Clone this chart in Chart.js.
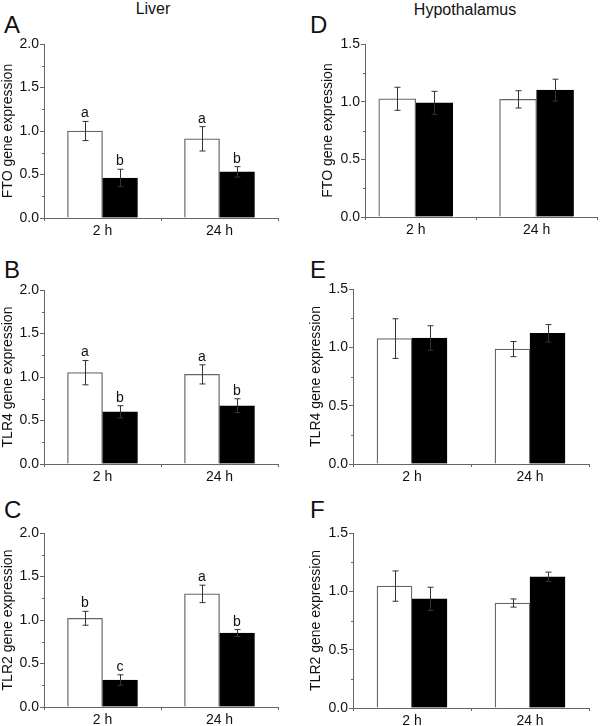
<!DOCTYPE html>
<html>
<head>
<meta charset="utf-8">
<script src="https://cdn.jsdelivr.net/npm/chart.js@4/dist/chart.umd.min.js"></script>
<style>
  body { margin: 0; background: #fff; }
  #wrap { position: relative; width: 600px; height: 726px; font-family: 'Liberation Sans', Arial, sans-serif; color: #111; }
  canvas { position: absolute; }
  .lbl { position: absolute; line-height: 1; white-space: nowrap; }
  .col { font-size: 16px; transform: translateX(-50%); }
  .pl { font-size: 24px; }
</style>
</head>
<body>
<div id="wrap">
  <div class="lbl col" style="left:153px; top:1px;">Liver</div>
  <div class="lbl col" style="left:465px; top:2px;">Hypothalamus</div>
  <div class="lbl pl" style="left:4px; top:13px;">A</div>
  <div class="lbl pl" style="left:4px; top:258px;">B</div>
  <div class="lbl pl" style="left:4px; top:498px;">C</div>
  <div class="lbl pl" style="left:310px; top:13px;">D</div>
  <div class="lbl pl" style="left:310px; top:258px;">E</div>
  <div class="lbl pl" style="left:310px; top:498px;">F</div>
</div>
<script>
const timeLabels = ['2 h', '24 h'];

// Liver (open = white bars, filled = black bars)
const liverFtoOpen = [1.00, 0.91];
const liverFtoOpenErr = [0.11, 0.14];
const liverFtoFilled = [0.46, 0.53];
const liverFtoFilledErr = [0.10, 0.06];
const liverFtoOpenSig = ['a', 'a'];
const liverFtoFilledSig = ['b', 'b'];

const liverTlr4Open = [1.05, 1.03];
const liverTlr4OpenErr = [0.14, 0.11];
const liverTlr4Filled = [0.60, 0.67];
const liverTlr4FilledErr = [0.07, 0.08];
const liverTlr4OpenSig = ['a', 'a'];
const liverTlr4FilledSig = ['b', 'b'];

const liverTlr2Open = [1.02, 1.30];
const liverTlr2OpenErr = [0.08, 0.10];
const liverTlr2Filled = [0.31, 0.85];
const liverTlr2FilledErr = [0.06, 0.04];
const liverTlr2OpenSig = ['b', 'a'];
const liverTlr2FilledSig = ['c', 'b'];

// Hypothalamus
const hypoFtoOpen = [1.025, 1.02];
const hypoFtoOpenErr = [0.10, 0.075];
const hypoFtoFilled = [0.99, 1.10];
const hypoFtoFilledErr = [0.10, 0.095];

const hypoTlr4Open = [1.075, 0.985];
const hypoTlr4OpenErr = [0.17, 0.065];
const hypoTlr4Filled = [1.08, 1.12];
const hypoTlr4FilledErr = [0.105, 0.075];

const hypoTlr2Open = [1.045, 0.90];
const hypoTlr2OpenErr = [0.13, 0.035];
const hypoTlr2Filled = [0.935, 1.125];
const hypoTlr2FilledErr = [0.10, 0.04];

const FONT = "'Liberation Sans', Arial, sans-serif";

const panels = [
  { id: 'A', title: 'FTO gene expression', yMax: 2.0,
    open: liverFtoOpen, openErr: liverFtoOpenErr, filled: liverFtoFilled, filledErr: liverFtoFilledErr,
    openSig: liverFtoOpenSig, filledSig: liverFtoFilledSig,
    box: { cx: 0, cy: 0, cw: 300, ch: 242, left: 44, right: 278, top: 44, bottom: 218, titleX: 8 },
    xMin: 0.5, xMax: 2.5, barW: 35 },
  { id: 'B', title: 'TLR4 gene expression', yMax: 2.0,
    open: liverTlr4Open, openErr: liverTlr4OpenErr, filled: liverTlr4Filled, filledErr: liverTlr4FilledErr,
    openSig: liverTlr4OpenSig, filledSig: liverTlr4FilledSig,
    box: { cx: 0, cy: 242, cw: 300, ch: 242, left: 44, right: 278, top: 290, bottom: 464, titleX: 8 },
    xMin: 0.5, xMax: 2.5, barW: 35 },
  { id: 'C', title: 'TLR2 gene expression', yMax: 2.0,
    open: liverTlr2Open, openErr: liverTlr2OpenErr, filled: liverTlr2Filled, filledErr: liverTlr2FilledErr,
    openSig: liverTlr2OpenSig, filledSig: liverTlr2FilledSig,
    box: { cx: 0, cy: 484, cw: 300, ch: 242, left: 44, right: 278, top: 533, bottom: 707, titleX: 8 },
    xMin: 0.5, xMax: 2.5, barW: 35 },
  { id: 'D', title: 'FTO gene expression', yMax: 1.5,
    open: hypoFtoOpen, openErr: hypoFtoOpenErr, filled: hypoFtoFilled, filledErr: hypoFtoFilledErr,
    box: { cx: 300, cy: 0, cw: 300, ch: 242, left: 365, right: 597, top: 44, bottom: 217, titleX: 328 },
    xMin: 0.58, xMax: 2.5, barW: 37 },
  { id: 'E', title: 'TLR4 gene expression', yMax: 1.5,
    open: hypoTlr4Open, openErr: hypoTlr4OpenErr, filled: hypoTlr4Filled, filledErr: hypoTlr4FilledErr,
    box: { cx: 300, cy: 242, cw: 300, ch: 242, left: 353, right: 589, top: 289, bottom: 464, titleX: 316 },
    xMin: 0.5, xMax: 2.5, barW: 35 },
  { id: 'F', title: 'TLR2 gene expression', yMax: 1.5,
    open: hypoTlr2Open, openErr: hypoTlr2OpenErr, filled: hypoTlr2Filled, filledErr: hypoTlr2FilledErr,
    box: { cx: 300, cy: 484, cw: 300, ch: 242, left: 353, right: 589, top: 533, bottom: 708, titleX: 316 },
    xMin: 0.5, xMax: 2.5, barW: 35 }
];

// error bars, letters and minor ticks
const extrasPlugin = {
  id: 'extras',
  afterDatasetsDraw(chart) {
    const ctx = chart.ctx;
    const p = chart.options.plugins.extras;
    const yScale = chart.scales.y;
    const area = chart.chartArea;
    ctx.save();
    // minor ticks on y axis
    ctx.strokeStyle = '#666';
    ctx.lineWidth = 1;
    for (let v = 0.25; v < p.yMax; v += 0.5) {
      const y = Math.round(yScale.getPixelForValue(v)) + 0.5;
      ctx.beginPath();
      ctx.moveTo(area.left - 2, y);
      ctx.lineTo(area.left, y);
      ctx.stroke();
    }
    const errs = [p.openErr, p.filledErr];
    const sigs = [p.openSig, p.filledSig];
    chart.data.datasets.forEach((ds, di) => {
      const meta = chart.getDatasetMeta(di);
      meta.data.forEach((bar, i) => {
        const v = ds.data[i].y;
        const e = errs[di][i];
        const x = Math.round(bar.x) + 0.5;
        const yt = yScale.getPixelForValue(v + e);
        const yb = yScale.getPixelForValue(v - e);
        ctx.strokeStyle = '#333';
        ctx.beginPath();
        ctx.moveTo(x, yt); ctx.lineTo(x, yb);
        ctx.moveTo(x - 3, yt); ctx.lineTo(x + 3, yt);
        ctx.moveTo(x - 3, yb); ctx.lineTo(x + 3, yb);
        ctx.stroke();
        if (sigs[di]) {
          ctx.fillStyle = '#111';
          ctx.font = '14px ' + FONT;
          ctx.textAlign = 'center';
          ctx.textBaseline = 'alphabetic';
          ctx.fillText(sigs[di][i], bar.x, yt - 4);
        }
      });
    });
    ctx.restore();
  }
};

const wrap = document.getElementById('wrap');

panels.forEach(p => {
  const b = p.box;
  const canvas = document.createElement('canvas');
  canvas.width = b.cw;
  canvas.height = b.ch;
  canvas.style.left = b.cx + 'px';
  canvas.style.top = b.cy + 'px';
  wrap.appendChild(canvas);

  const padLeft = Math.max(0, b.titleX - 8.4 - b.cx);
  const yWidth = b.left - b.cx - padLeft;
  const xHeight = b.cy + b.ch - b.bottom;
  const xTicks = [p.xMin, 1, 1.5, 2, p.xMax];

  new Chart(canvas, {
    type: 'bar',
    data: {
      datasets: [
        {
          data: p.open.map((y, i) => ({ x: i + 1, y })),
          backgroundColor: '#fff',
          borderColor: '#666',
          borderWidth: 1.3,
          barThickness: p.barW
        },
        {
          data: p.filled.map((y, i) => ({ x: i + 1, y })),
          backgroundColor: '#000',
          borderColor: '#000',
          borderWidth: 1,
          barThickness: p.barW
        }
      ]
    },
    options: {
      responsive: false,
      animation: false,
      layout: { padding: { left: padLeft, right: b.cx + b.cw - b.right, top: b.top - b.cy, bottom: 0 } },
      plugins: {
        legend: { display: false },
        tooltip: { enabled: false },
        extras: { yMax: p.yMax, openErr: p.openErr, filledErr: p.filledErr, openSig: p.openSig, filledSig: p.filledSig }
      },
      scales: {
        x: {
          type: 'linear',
          min: p.xMin,
          max: p.xMax,
          offset: false,
          afterBuildTicks: s => { s.ticks = xTicks.map(v => ({ value: v })); },
          afterFit: s => { s.height = xHeight; },
          grid: {
            offset: false,
            drawOnChartArea: false,
            tickLength: 3,
            tickColor: c => (c.tick && Number.isInteger(c.tick.value)) ? 'rgba(0,0,0,0)' : '#666'
          },
          border: { color: '#666', width: 1 },
          ticks: {
            autoSkip: false,
            maxRotation: 0,
            padding: 2,
            color: '#111',
            font: { family: FONT, size: 14 },
            callback: v => Number.isInteger(v) ? timeLabels[v - 1] : ''
          }
        },
        y: {
          min: 0,
          max: p.yMax,
          afterFit: s => { s.width = yWidth; },
          grid: { drawOnChartArea: false, tickLength: 4, tickColor: '#666' },
          border: { color: '#666', width: 1 },
          ticks: {
            stepSize: 0.5,
            padding: 1,
            color: '#111',
            font: { family: FONT, size: 14 },
            callback: v => v.toFixed(1)
          },
          title: {
            display: true,
            text: p.title,
            color: '#111',
            padding: { top: 0, bottom: 0 },
            font: { family: FONT, size: 14 }
          }
        }
      }
    },
    plugins: [extrasPlugin]
  });
});
</script>
</body>
</html>
